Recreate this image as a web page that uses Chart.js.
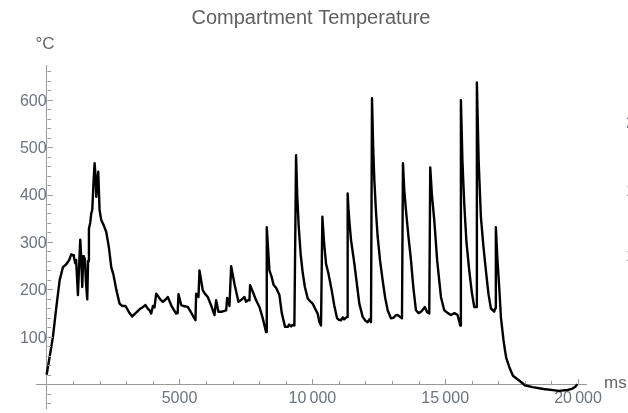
<!DOCTYPE html>
<html>
<head>
<meta charset="utf-8">
<script src="https://cdn.jsdelivr.net/npm/chart.js@4/dist/chart.umd.min.js"></script>
<style>
  html, body { margin: 0; padding: 0; background: #ffffff; }
  #wrap { width: 628px; height: 413px; }
</style>
</head>
<body>
<div id="wrap"><canvas id="c" width="628" height="413"></canvas></div>
<script>
// Compartment temperature trace: time (ms) and temperature (°C)
const timeMs = [
  0, 120, 237, 360, 489, 614, 740, 850, 928, 1000, 1027, 1078, 1110, 1178, 1230, 1266, 1300, 1341, 1380, 1404,
  1440, 1480, 1529, 1560, 1592, 1640, 1680, 1718, 1760, 1805, 1840, 1868, 1905, 1943, 1993, 2056, 2150, 2244, 2340, 2432,
  2519, 2620, 2745, 2850, 2970, 3100, 3222, 3350, 3497, 3600, 3722, 3800, 3873, 3936, 4000, 4060, 4124, 4200, 4290, 4374,
  4470, 4561, 4700, 4875, 4930, 4963, 5063, 5150, 5313, 5450, 5602, 5627, 5715, 5753, 5877, 5970, 6065, 6200, 6317, 6380,
  6467, 6600, 6757, 6795, 6881, 6945, 7069, 7219, 7330, 7445, 7507, 7600, 7633, 7658, 7760, 7884, 8009, 8130, 8260, 8285,
  8385, 8460, 8540, 8640, 8761, 8850, 8974, 9075, 9130, 9200, 9260, 9325, 9388, 9430, 9488, 9560, 9638, 9720, 9826, 9900,
  10014, 10100, 10201, 10265, 10327, 10378, 10440, 10516, 10600, 10729, 10830, 10930, 11000, 11080, 11150, 11200, 11306, 11330, 11360, 11400,
  11456, 11581, 11707, 11769, 11895, 12000, 12083, 12150, 12208, 12246, 12290, 12334, 12400, 12459, 12550, 12647, 12740, 12835, 12960, 13050,
  13130, 13210, 13300, 13374, 13411, 13460, 13523, 13620, 13712, 13800, 13900, 14000, 14088, 14170, 14238, 14320, 14401, 14438, 14500, 14589,
  14700, 14840, 14965, 15100, 15216, 15350, 15466, 15566, 15592, 15650, 15717, 15800, 15905, 16000, 16093, 16180, 16193, 16260, 16344, 16440,
  16532, 16630, 16720, 16845, 16880, 16907, 16960, 17033, 17100, 17150, 17195, 17250, 17300, 17408, 17550, 17785, 18000, 18285, 18700, 19290,
  19600, 19790, 19900, 19978
];
const tempC = [
  20, 60, 100, 160, 219, 247, 253, 262, 274, 272, 268, 255, 262, 188, 260, 305, 270, 205, 270, 251,
  265, 215, 179, 260, 328, 340, 360, 368, 420, 466, 440, 395, 420, 448, 367, 346, 335, 321, 290, 247,
  230, 200, 170, 165, 165, 152, 143, 150, 158, 162, 167, 160, 156, 149, 165, 162, 191, 185, 178, 174,
  178, 184, 165, 149, 150, 190, 167, 165, 163, 150, 135, 191, 184, 240, 198, 190, 184, 165, 146, 177,
  153, 153, 156, 182, 165, 249, 212, 174, 178, 184, 174, 178, 177, 209, 195, 177, 163, 140, 110, 331,
  240, 228, 210, 203, 188, 150, 121, 121, 126, 122, 125, 124, 483, 400, 332, 275, 235, 205, 181, 176,
  170, 160, 149, 131, 124, 353, 300, 254, 235, 198, 165, 139, 136, 135, 141, 137, 142, 402, 370, 340,
  304, 255, 198, 170, 142, 134, 131, 137, 131, 603, 500, 430, 360, 311, 260, 219, 183, 156, 139, 140,
  145, 146, 142, 139, 466, 410, 367, 310, 262, 205, 156, 150, 153, 158, 163, 152, 149, 457, 400, 346,
  260, 184, 156, 150, 146, 150, 146, 124, 599, 470, 381, 300, 240, 195, 163, 163, 636, 470, 353, 290,
  240, 190, 160, 153, 160, 331, 270, 205, 140, 115, 93, 72, 55, 37, 18, 8, -2, -6, -10, -14,
  -12, -9, -5, 0
];

// Labelled ticks
const xTickValues = [5000, 10000, 15000, 20000];
const xTickLabels = ['5000', '10\u2009000', '15\u2009000', '20\u2009000'];
const yTickValues = [100, 200, 300, 400, 500, 600];
const yTickLabels = ['100', '200', '300', '400', '500', '600'];

const chartTitle = 'Compartment Temperature';
const yUnit = '\u00B0C';
const xUnit = 'ms';
// Labels of the neighbouring panel that peek in at the right edge
const edgeLabels = ['2', '1', '1'];

const FONT = "'Liberation Sans', Arial, sans-serif";
const LABEL_COLOR = '#6c7480';
const AXIS_COLOR = '#9a9a9a';

const points = timeMs.map((t, i) => ({ x: t, y: tempC[i] }));

// Inward major/minor tick marks drawn along the crossing axes
const axisTicks = {
  id: 'axisTicks',
  afterDraw(chart) {
    const { ctx } = chart;
    const xs = chart.scales.x, ys = chart.scales.y;
    const x0 = Math.round(xs.getPixelForValue(0)) + 0.5;
    const y0 = Math.round(ys.getPixelForValue(0)) + 0.5;
    ctx.save();
    ctx.strokeStyle = AXIS_COLOR;
    ctx.lineWidth = 1;
    ctx.beginPath();
    for (let v = 1000; v <= 20000; v += 1000) {
      const px = Math.round(xs.getPixelForValue(v)) + 0.5;
      const len = v % 5000 === 0 ? 5.5 : 3.5;
      ctx.moveTo(px, y0);
      ctx.lineTo(px, y0 - len);
    }
    for (let v = -40; v <= 660; v += 20) {
      if (v === 0) continue;
      const py = Math.round(ys.getPixelForValue(v)) + 0.5;
      const len = v % 100 === 0 ? 5.5 : 3.5;
      ctx.moveTo(x0, py);
      ctx.lineTo(x0 + len, py);
    }
    ctx.stroke();

    // Axis units and edge labels
    ctx.fillStyle = '#666666';
    ctx.font = '17px ' + FONT;
    ctx.textBaseline = 'alphabetic';
    ctx.textAlign = 'center';
    ctx.fillText(yUnit, 45, 49);
    ctx.textAlign = 'left';
    ctx.fillText(xUnit, 604, 388);
    ctx.fillStyle = LABEL_COLOR;
    const edgeBaselines = [128, 196, 261];
    edgeLabels.forEach((s, i) => ctx.fillText(s, 626, edgeBaselines[i]));
    ctx.restore();
  }
};

// Axes placed at a data value should not reserve edge padding
const noPad = (s) => { s.paddingTop = 0; s.paddingBottom = 0; s.paddingLeft = 0; s.paddingRight = 0; };

new Chart(document.getElementById('c'), {
  type: 'line',
  data: {
    datasets: [{
      data: points,
      borderColor: '#000000',
      borderWidth: 2.4,
      pointRadius: 0,
      tension: 0,
      borderJoinStyle: 'round',
      fill: false
    }]
  },
  options: {
    responsive: false,
    animation: false,
    layout: { padding: { left: 36, right: 42, top: 0, bottom: 5 } },
    plugins: {
      legend: { display: false },
      tooltip: { enabled: false },
      title: {
        display: true,
        text: chartTitle,
        color: '#606060',
        font: { family: FONT, size: 20, weight: 'normal' },
        padding: { top: 6, bottom: 35 }
      }
    },
    scales: {
      x: {
        type: 'linear',
        min: -400,
        max: 20300,
        position: { y: 0 },
        afterFit: noPad,
        afterBuildTicks: (s) => { s.ticks = xTickValues.map(v => ({ value: v })); },
        ticks: {
          autoSkip: false,
          maxRotation: 0,
          padding: 5,
          color: LABEL_COLOR,
          font: { family: FONT, size: 16 },
          callback: (v) => xTickLabels[xTickValues.indexOf(v)]
        },
        grid: { display: true, drawOnChartArea: false, drawTicks: false },
        border: { display: true, color: AXIS_COLOR, width: 1 }
      },
      y: {
        type: 'linear',
        min: -50,
        max: 673,
        position: { x: 0 },
        afterFit: noPad,
        afterBuildTicks: (s) => { s.ticks = yTickValues.map(v => ({ value: v })); },
        ticks: {
          autoSkip: false,
          padding: 7,
          labelOffset: 1.5,
          color: LABEL_COLOR,
          font: { family: FONT, size: 16 },
          callback: (v) => yTickLabels[yTickValues.indexOf(v)]
        },
        grid: { display: true, drawOnChartArea: false, drawTicks: false },
        border: { display: true, color: AXIS_COLOR, width: 1 }
      }
    }
  },
  plugins: [axisTicks]
});
</script>
</body>
</html>
